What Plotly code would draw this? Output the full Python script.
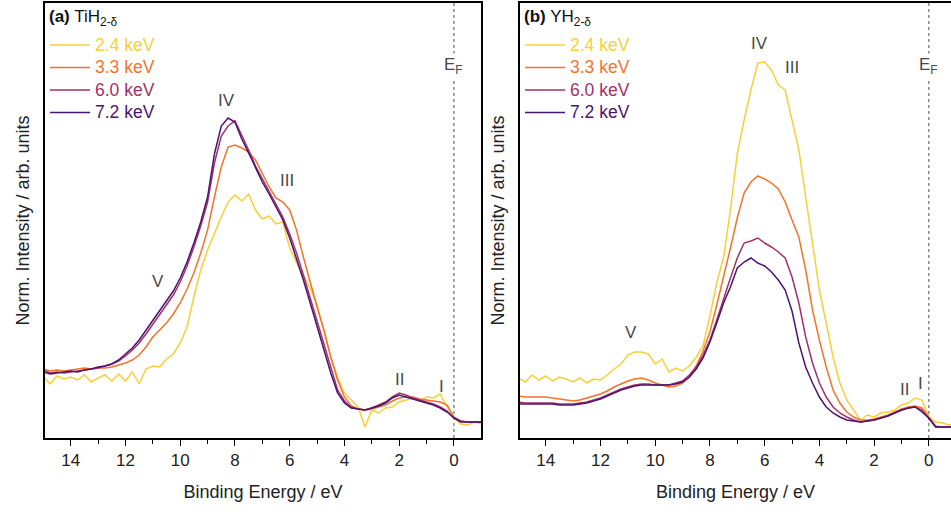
import numpy as np
import plotly.graph_objects as go

# Binding energy grid (eV), read at 0.25 eV steps
energy = [15, 14.75, 14.5, 14.25, 14, 13.75, 13.5, 13.25, 13, 12.75, 12.5, 12.25,
          12, 11.75, 11.5, 11.25, 11, 10.75, 10.5, 10.25, 10, 9.75, 9.5, 9.25,
          9, 8.75, 8.5, 8.25, 8, 7.75, 7.5, 7.25, 7, 6.75, 6.5, 6.25,
          6, 5.75, 5.5, 5.25, 5, 4.75, 4.5, 4.25, 4, 3.75, 3.5, 3.25,
          3, 2.75, 2.5, 2.25, 2, 1.75, 1.5, 1.25, 1, 0.75, 0.5, 0.25,
          0, -0.25, -0.5, -0.75, -1]

labels = ["2.4 keV", "3.3 keV", "6.0 keV", "7.2 keV"]
colors = ["#F8CF37", "#F3732B", "#A2306A", "#4A1470"]

# (a) TiH2-d  normalised intensity (arb. units)
ti_24 = [61, 54, 62, 59, 61, 58, 63, 56, 60, 63, 57, 64,
         57, 66, 54, 69, 72, 71, 79, 84, 95, 111, 141, 168,
         188, 205, 221, 236, 243, 237, 244, 228, 219, 222, 214, 216,
         190, 175, 163, 150, 133, 108, 81, 61, 45, 38, 31, 11,
         28, 25, 30, 31, 36, 38, 40, 37, 41, 40, 44, 31,
         20, 14, 13, 16, 14]
ti_33 = [69, 67, 68, 67, 68, 69, 70, 69, 70, 70, 71, 73,
         75, 78, 83, 91, 101, 108, 115, 124, 135, 149, 165, 185,
         208, 241, 271, 291, 293, 290, 286, 278, 265, 251, 240, 236,
         228, 208, 181, 155, 131, 108, 81, 58, 41, 32, 29, 28,
         29, 31, 33, 37, 40, 41, 41, 39, 38, 37, 36, 33,
         21, 17, 16, 16, 16]
ti_60 = [68, 65, 66, 65, 66, 67, 68, 69, 70, 72, 74, 77,
         82, 88, 95, 104, 114, 123, 133, 143, 156, 172, 191, 212,
         236, 275, 302, 312, 317, 303, 288, 272, 259, 247, 234, 221,
         204, 185, 163, 140, 116, 93, 69, 48, 37, 31, 29, 28,
         30, 33, 36, 41, 45, 43, 40, 38, 36, 34, 31, 27,
         20, 17, 16, 16, 16]
ti_72 = [66, 64, 65, 66, 67, 66, 68, 69, 71, 72, 74, 78,
         84, 90, 98, 108, 118, 127, 137, 147, 160, 176, 195, 216,
         241, 284, 312, 320, 316, 299, 285, 270, 256, 244, 231, 218,
         200, 180, 158, 135, 111, 88, 65, 45, 35, 30, 29, 28,
         30, 32, 35, 40, 43, 41, 39, 37, 35, 33, 30, 26,
         20, 16, 16, 16, 16]

# (b) YH2-d  normalised intensity (arb. units)
y_24 = [60, 56, 63, 58, 62, 57, 61, 59, 56, 60, 55, 59,
        58, 63, 69, 74, 83, 86, 86, 84, 74, 79, 66, 70,
        67, 72, 81, 92, 122, 155, 181, 228, 284, 318, 348, 375,
        376, 368, 353, 348, 318, 288, 241, 195, 148, 115, 81, 55,
        38, 28, 18, 23, 21, 25, 26, 28, 33, 35, 40, 38,
        21, 16, 15, 13, 15]
y_33 = [42, 41, 41, 41, 41, 40, 39, 38, 37, 38, 40, 42,
        44, 47, 51, 54, 57, 59, 60, 58, 55, 53, 51, 52,
        55, 61, 72, 87, 106, 133, 160, 190, 220, 245, 256, 262,
        259, 255, 249, 236, 218, 201, 168, 128, 98, 71, 48, 35,
        26, 21, 18, 18, 19, 21, 23, 26, 29, 31, 32, 30,
        21, 12, 11, 11, 11]
y_60 = [36, 35, 35, 35, 35, 35, 34, 34, 34, 35, 36, 38,
        40, 43, 46, 49, 51, 53, 54, 54, 53, 53, 53, 55,
        57, 63, 71, 83, 98, 118, 140, 160, 180, 195, 197, 200,
        195, 191, 186, 180, 161, 135, 101, 75, 55, 41, 31, 25,
        21, 18, 16, 17, 18, 20, 22, 25, 28, 30, 31, 28,
        20, 11, 11, 11, 11]
y_72 = [34, 34, 34, 34, 34, 34, 33, 33, 33, 34, 35, 37,
        39, 42, 45, 48, 50, 52, 53, 53, 53, 53, 53, 54,
        56, 61, 69, 80, 96, 115, 135, 151, 170, 176, 180, 175,
        172, 166, 158, 148, 127, 95, 71, 55, 41, 31, 25, 21,
        18, 17, 16, 17, 18, 20, 22, 25, 28, 30, 31, 26,
        20, 11, 11, 11, 11]

ti_series = [ti_24, ti_33, ti_60, ti_72]
y_series = [y_24, y_33, y_60, y_72]

# peak labels: (text, energy, intensity)
ti_peaks = [("IV", 8.3, 338), ("III", 6.1, 258), ("V", 10.8, 157),
            ("II", 2.0, 59), ("I", 0.45, 52)]
y_peaks = [("IV", 6.2, 395), ("III", 5.0, 371), ("V", 10.9, 106),
           ("II", 0.9, 49), ("I", 0.3, 55)]

FONT = "Arial, Liberation Sans, sans-serif"
GREY = "#484848"


def legend_name(lab, col):
    return f'<span style="color:{col};font-size:17.5px">{lab}</span>'


fig = go.Figure()
for lab, col, ys in zip(labels, colors, ti_series):
    fig.add_trace(go.Scatter(x=energy, y=ys, mode="lines", name=legend_name(lab, col),
                             line=dict(color=col, width=1.5), xaxis="x", yaxis="y", legend="legend"))
for lab, col, ys in zip(labels, colors, y_series):
    fig.add_trace(go.Scatter(x=energy, y=ys, mode="lines", name=legend_name(lab, col),
                             line=dict(color=col, width=1.5), xaxis="x2", yaxis="y2", legend="legend2"))

W, H = 951, 512
ml, mr, mt, mb = 45, 0, 3, 74
pw = W - ml - mr
da = [0, (481 - ml) / pw]
db = [(520 - ml) / pw, 1]

xcommon = dict(tickmode="array", tickvals=[14, 12, 10, 8, 6, 4, 2, 0],
               ticks="outside", ticklen=6, tickwidth=1.2, tickcolor="black",
               minor=dict(tickvals=[13, 11, 9, 7, 5, 3, 1, -1], ticks="outside", ticklen=4,
                          tickwidth=1.2, tickcolor="black"),
               showgrid=False, zeroline=False, showline=True, linecolor="black", linewidth=1.5,
               tickfont=dict(family=FONT, size=17, color="#222"),
               title=dict(text="Binding Energy / eV", font=dict(family=FONT, size=18, color="#222"), standoff=16))
ycommon = dict(range=[0, 435], showticklabels=False, ticks="", showgrid=False, zeroline=False,
               showline=True, linecolor="black", linewidth=1.5,
               title=dict(text="Norm. Intensity / arb. units", font=dict(family=FONT, size=18, color="#222"),
                          standoff=9))

fig.update_layout(
    width=W, height=H, margin=dict(l=ml, r=mr, t=mt, b=mb),
    paper_bgcolor="white", plot_bgcolor="white", showlegend=True,
    xaxis=dict(domain=da, range=[14.94, -0.99], anchor="y", mirror=True, **xcommon),
    yaxis=dict(domain=[0, 1], anchor="x", mirror=True, **ycommon),
    xaxis2=dict(domain=db, range=[14.94, -0.81], anchor="y2", mirror=True, **xcommon),
    yaxis2=dict(domain=[0, 1], anchor="x2", mirror=False, **ycommon),
    legend=dict(x=0.0, y=0.941, xanchor="left", yanchor="top", bgcolor="rgba(0,0,0,0)",
                font=dict(family=FONT, size=15), itemwidth=40, tracegroupgap=0),
    legend2=dict(x=db[0], y=0.941, xanchor="left", yanchor="top", bgcolor="rgba(0,0,0,0)",
                 font=dict(family=FONT, size=15), itemwidth=40, tracegroupgap=0),
)

# Fermi level dotted lines
for xr, yr in (("x", "y"), ("x2", "y2")):
    fig.add_shape(type="line", x0=0, x1=0, y0=0, y1=435, xref=xr, yref=yr,
                  line=dict(color="#777", width=1.3, dash="dot"), layer="below")

anns = []
for xr, yr, peaks, title in (("x", "y", ti_peaks, "<b>(a)</b> TiH<sub>2-δ</sub>"),
                             ("x2", "y2", y_peaks, "<b>(b)</b> YH<sub>2-δ</sub>")):
    for txt, ex, iy in peaks:
        anns.append(dict(x=ex, y=iy, xref=xr, yref=yr, text=txt, showarrow=False,
                         font=dict(family=FONT, size=17, color=GREY)))
    anns.append(dict(x=0, y=372, xref=xr, yref=yr, text="E<sub>F</sub>", showarrow=False,
                     bgcolor="white", font=dict(family=FONT, size=17, color=GREY)))
    anns.append(dict(x=14.85, y=433, xref=xr, yref=yr, text=title, showarrow=False,
                     xanchor="left", yanchor="top", font=dict(family=FONT, size=17, color="#111")))
fig.update_layout(annotations=anns)

fig.write_html("out.html")
